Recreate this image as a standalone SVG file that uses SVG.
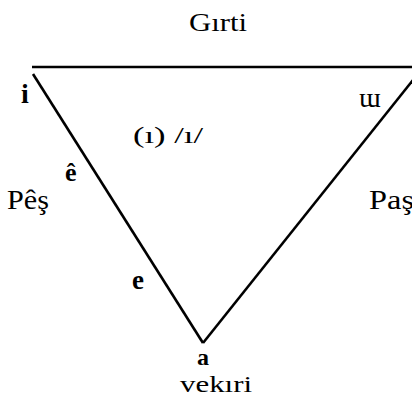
<svg xmlns="http://www.w3.org/2000/svg" width="412" height="404" viewBox="0 0 412 404">
<style>
.t{font-family:"Liberation Serif","Times New Roman",serif;fill:#000}
.b{font-weight:bold}
.ln{stroke:#000;stroke-width:2.6;fill:none}
</style>
<rect width="412" height="404" fill="#fff"/>
<g id="connectors">
<line class="ln" x1="32" y1="67" x2="412" y2="67"/>
<line class="ln" x1="33" y1="74" x2="203" y2="343"/>
<line class="ln" x1="203" y1="343" x2="413" y2="80"/>
</g>
<g id="title"><text class="t" x="189" y="31" font-size="25" textLength="58" lengthAdjust="spacingAndGlyphs">Gırti</text></g>
<g id="i"><text class="t b" x="21" y="103" font-size="28">i</text></g>
<g id="u"><text class="t" x="359" y="107" font-size="28">ɯ</text></g>
<g id="central"><text class="t" x="133" y="143" font-size="23" textLength="70" lengthAdjust="spacingAndGlyphs">(ı) /ı/</text></g>
<g id="e-circ"><text class="t b" x="65" y="181" font-size="26">ê</text></g>
<g id="pes"><text class="t" x="7" y="209" font-size="27" textLength="42" lengthAdjust="spacingAndGlyphs">Pêş</text></g>
<g id="pas"><text class="t" x="369" y="209" font-size="27" textLength="45" lengthAdjust="spacingAndGlyphs">Paş</text></g>
<g id="e"><text class="t b" x="132" y="289" font-size="27">e</text></g>
<g id="a"><text class="t b" x="197" y="365" font-size="24">a</text></g>
<g id="vekiri"><text class="t" x="180" y="392" font-size="24" textLength="72" lengthAdjust="spacingAndGlyphs">vekıri</text></g>
</svg>
